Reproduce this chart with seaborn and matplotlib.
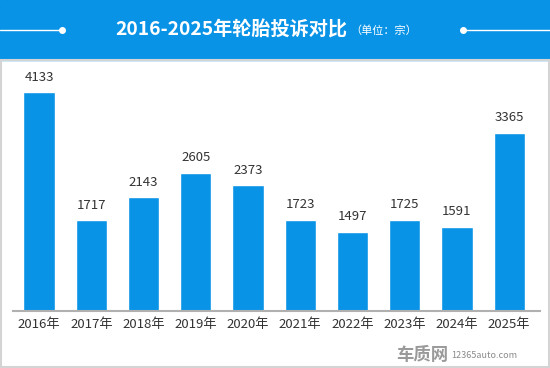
import matplotlib.pyplot as plt
import seaborn as sns
import pandas as pd
from matplotlib.patches import Rectangle

years = ['2016年', '2017年', '2018年', '2019年', '2020年',
         '2021年', '2022年', '2023年', '2024年', '2025年']
complaints = [4133, 1717, 2143, 2605, 2373, 1723, 1497, 1725, 1591, 3365]

df = pd.DataFrame({'year': years, 'count': complaints})

sns.set_style('white')
plt.rcParams['font.family'] = ['Noto Sans CJK SC', 'DejaVu Sans']

blue = '#0993e6'
fig = plt.figure(figsize=(5.5, 3.68), dpi=100)
W, H = 550, 368

# header band
fig.patches.append(Rectangle((0, 1 - 60 / H), 1, 60 / H, transform=fig.transFigure,
                             color=blue, zorder=0))
# light border round the white area
fig.patches.append(Rectangle((0.5 / W, 1 / H), 1 - 1.5 / W, 1 - 61 / H,
                             transform=fig.transFigure, fill=False,
                             edgecolor='#d4d4d4', linewidth=1.5, zorder=1))
# decorative lines in the header
ly = 1 - 30 / H
fig.add_artist(plt.Line2D([0, 62 / W], [ly, ly], color='white', lw=1, transform=fig.transFigure))
fig.add_artist(plt.Line2D([463 / W, 1], [ly, ly], color='white', lw=1, transform=fig.transFigure))
fig.add_artist(plt.Line2D([62 / W, 463 / W], [ly, ly], ls='none', marker='o', ms=4,
                          color='white', transform=fig.transFigure))
fig.text(231 / W, ly, '2016-2025年轮胎投诉对比', color='white', fontsize=13.8,
         fontweight='bold', ha='center', va='center')
fig.text(350 / W, ly - 1 / H, '（单位：宗）', color='white', fontsize=8,
         ha='left', va='center')

ax = fig.add_axes([13 / W, 1 - 311 / H, (540 - 13) / W, (311 - 60) / H])
sns.barplot(data=df, x='year', y='count', color=blue, saturation=1, width=0.6, ax=ax)
ax.set_xlim(-0.5, 9.59)
ax.set_ylim(0, 4737)
ax.set_xlabel('')
ax.set_ylabel('')
ax.set_yticks([])
for s in ['top', 'right', 'left']:
    ax.spines[s].set_visible(False)
ax.spines['bottom'].set_color('#b0b0b0')
ax.spines['bottom'].set_linewidth(1.5)
ax.tick_params(axis='x', length=0, pad=5, labelsize=9.5, labelcolor='#333333')
ax.patch.set_alpha(0)
for i, v in enumerate(complaints):
    ax.text(i, v + 160, str(v), ha='center', va='bottom', fontsize=9.5, color='#333333')

# watermark
fig.text(448 / W, 1 - 355 / H, '车质网', color='#9a9a9a', fontsize=12.5, fontweight='bold',
         ha='right', va='center')
fig.text(451 / W, 1 - 356 / H, '12365auto.com', color='#8a8a8a', fontsize=6.5,
         ha='left', va='center')

fig.savefig('out.png', dpi=100)
